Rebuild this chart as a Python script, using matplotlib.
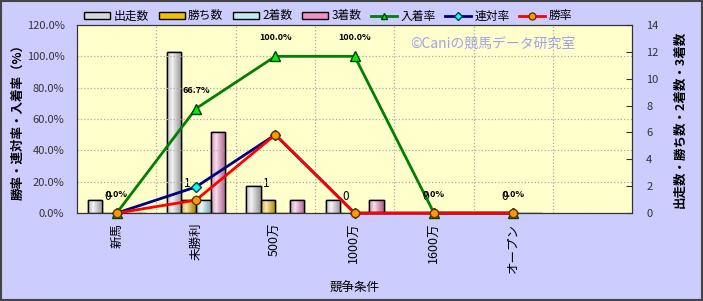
import matplotlib
matplotlib.use("Agg")
import matplotlib.pyplot as plt
import numpy as np
from matplotlib.patches import Patch
from matplotlib.lines import Line2D
from matplotlib.colors import to_rgb
from matplotlib.ticker import FuncFormatter

plt.rcParams['font.family'] = ['Noto Sans CJK JP', 'DejaVu Sans']

cats = ['新馬', '未勝利', '500万', '1000万', '1600万', 'オープン']
runs = [1, 12, 2, 1, 0, 0]      # 出走数
wins = [0, 1, 1, 0, 0, 0]       # 勝ち数
second = [0, 1, 0, 0, 0, 0]     # 2着数
third = [0, 6, 1, 1, 0, 0]      # 3着数
place_rate = [0.0, 66.7, 100.0, 100.0, 0.0, 0.0]   # 入着率
rentai_rate = [0.0, 16.7, 50.0, 0.0, 0.0, 0.0]     # 連対率
win_rate = [0.0, 8.3, 50.0, 0.0, 0.0, 0.0]         # 勝率

fig = plt.figure(figsize=(7.03, 3.01), dpi=100, facecolor='#CCCCFF')
ax = fig.add_axes([0.1095, 0.292, 0.79, 0.625])
ax2 = ax.twinx()
ax.set_facecolor('#FFFFCC')
ax2.patch.set_visible(False)


def shade(col):
    # cylinder-like horizontal shading: darker edges, light centre
    base = np.array(to_rgb(col))
    t = np.linspace(0, 1, 32)
    light = np.clip(1 - np.abs(t - 0.35) / 0.65, 0, 1) ** 1.2
    rows = []
    for l in light:
        c = base * (0.72 + 0.28 * l) + (1 - base) * 0.7 * l
        rows.append(np.clip(c, 0, 1))
    return np.array(rows)[None, :, :]


x = list(range(len(cats)))
bw = 0.183
bar_sets = [(runs, '#D8D8D8'), (wins, '#F0C000'), (second, '#BDEFEF'), (third, '#F090C4')]
for i, (vals, col) in enumerate(bar_sets):
    pos = [xi + (i - 1.5) * bw for xi in x]
    bars = ax.bar(pos, vals, width=bw, color=col, edgecolor='black', linewidth=1, zorder=2)
    img = shade(col)
    for b in bars:
        if b.get_height() <= 0:
            continue
        x0, y0 = b.get_x(), b.get_y()
        im = ax.imshow(img, extent=[x0, x0 + b.get_width(), y0, y0 + b.get_height()],
                       aspect='auto', zorder=2.1, interpolation='bilinear')
        im.set_clip_path(b)
        ax.bar(b.get_x() + b.get_width() / 2, b.get_height(), width=b.get_width(),
               fill=False, edgecolor='black', linewidth=1, zorder=2.2)

for xi, v in zip(x, wins):
    ax.annotate(str(v), (xi - 0.5 * bw, v), xytext=(-1, 7), textcoords='offset points',
                ha='center', va='bottom', fontsize=8.5)

ax.set_ylim(0, 14)
ax.set_yticks(range(0, 15, 2))
ax.set_xlim(-0.5, 6.5)
ax.yaxis.tick_right()
ax.yaxis.set_label_position('right')
ax.tick_params(axis='y', direction='in', length=4, labelsize=8, pad=10, colors='#333333')
ax.set_ylabel('出走数・勝ち数・2着数・3着数', fontsize=9, fontweight='bold')
ax.yaxis.set_label_coords(1.074, 0.5)

ax.set_xticks(x)
ax.set_xticklabels(cats, rotation=90, fontsize=9)
ax.tick_params(axis='x', length=0, pad=7)
ax.set_xlabel('競争条件', fontsize=9)
ax.xaxis.set_label_coords(0.5, -0.365)
for b in [0.5, 1.5, 2.5, 3.5, 4.5, 5.5]:
    ax.axvline(b, color='#AAAAAA', linestyle=':', linewidth=0.9, zorder=1)

ax2.plot(x, place_rate, color='#008000', linewidth=2, marker='^', markersize=7,
         markerfacecolor='#00EE00', markeredgecolor='#004000', zorder=3, clip_on=False)
ax2.plot(x, rentai_rate, color='#000080', linewidth=2, marker='D', markersize=5,
         markerfacecolor='#00FFFF', markeredgecolor='#004040', zorder=4, clip_on=False)
ax2.plot(x, win_rate, color='#FF0000', linewidth=2, marker='o', markersize=6,
         markerfacecolor='#FF9900', markeredgecolor='#663300', zorder=5, clip_on=False)
for xi, v in zip(x, place_rate):
    ax2.annotate('%.1f%%' % v, (xi, v), xytext=(0, 10), textcoords='offset points',
                 ha='center', va='bottom', fontsize=6.5, fontweight='bold')

ax2.set_ylim(0, 120)
ax2.set_yticks(range(0, 121, 20))
ax2.yaxis.set_major_formatter(FuncFormatter(lambda v, p: '%.1f%%' % v))
ax2.yaxis.tick_left()
ax2.yaxis.set_label_position('left')
ax2.tick_params(axis='y', length=0, labelsize=8, pad=9, colors='#333333')
ax2.set_ylabel('勝率・連対率・入着率（%）', fontsize=9, fontweight='bold')
ax2.yaxis.set_label_coords(-0.095, 0.5)
ax2.grid(axis='y', color='#AAAAAA', linestyle=':', linewidth=0.9)
ax2.set_axisbelow(True)
for a in (ax, ax2):
    for s in a.spines.values():
        s.set_color('#333333')

ax2.text(0.748, 0.9, '©Caniの競馬データ研究室', transform=ax2.transAxes, ha='center',
         va='center', fontsize=10, color='#A0A0F0')

handles = [Patch(facecolor=c, edgecolor='black', label=l) for (v, c), l in
           zip(bar_sets, ['出走数', '勝ち数', '2着数', '3着数'])]
handles += [
    Line2D([], [], color='#008000', linewidth=2, marker='^', markersize=5,
           markerfacecolor='#00EE00', markeredgecolor='#004000', label='入着率'),
    Line2D([], [], color='#000080', linewidth=2, marker='D', markersize=4,
           markerfacecolor='#00FFFF', markeredgecolor='#004040', label='連対率'),
    Line2D([], [], color='#FF0000', linewidth=2, marker='o', markersize=5,
           markerfacecolor='#FF9900', markeredgecolor='#663300', label='勝率'),
]
fig.legend(handles=handles, loc='center', bbox_to_anchor=(0.467, 0.947), ncol=7,
           frameon=False, fontsize=8.5, handlelength=2.2, handleheight=0.5,
           columnspacing=0.8, handletextpad=0.3)

fig.patches.append(plt.Rectangle((0.001, 0.002), 0.997, 0.995, transform=fig.transFigure,
                                 fill=False, edgecolor='#444444', linewidth=1.5))
fig.savefig('out.png', dpi=100, facecolor=fig.get_facecolor())
